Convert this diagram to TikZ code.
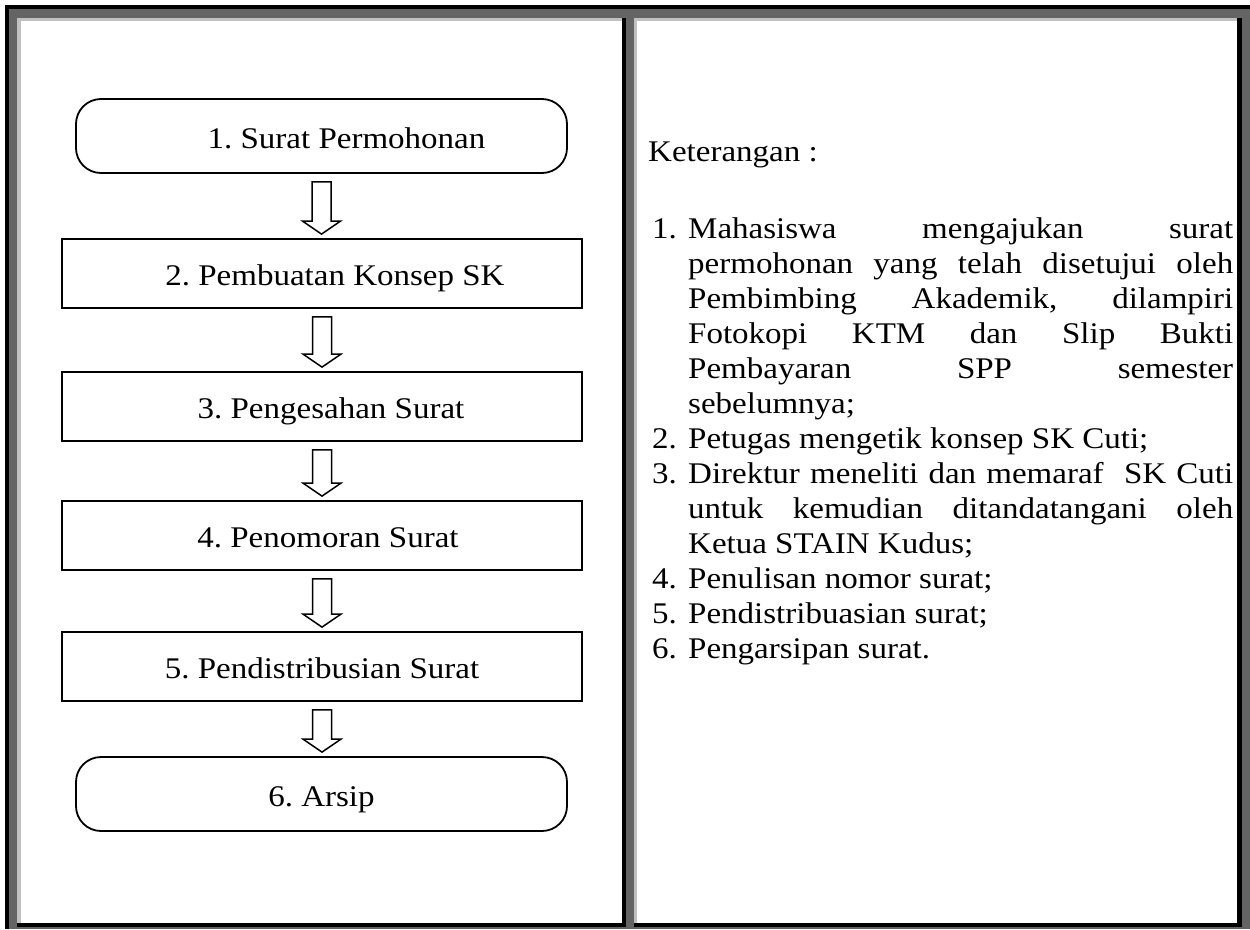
\documentclass[tikz,border=0pt]{standalone}
\usepackage{fontspec}
\setmainfont{Liberation Serif}[FakeStretch=1.1]
\usetikzlibrary{calc}
\definecolor{dg}{HTML}{646464}
\definecolor{lg}{HTML}{C0C0C0}
\tikzset{
  boxsty/.style={draw, line width=1.8pt, minimum width=520pt, minimum height=69pt, inner sep=0pt,
    font=\fontsize{30}{35}\selectfont, text height=24pt, text depth=0pt},
  roundsty/.style={boxsty, minimum width=491pt, minimum height=74pt, rounded corners=25pt},
  arrsty/.style={draw, line width=1.5pt, fill=white, line join=miter},
  txtsty/.style={font=\fontsize{30}{35}\selectfont, inner sep=0pt}
}
\newcommand\blockarr[2]{%
  \path let \p1=(#1.south), \p2=(#2.north) in
    [arrsty] (\x1-9.5pt,\y1-8pt) -- (\x1+9.5pt,\y1-8pt) -- (\x1+9.5pt,\y2+17pt)
    -- (\x1+19pt,\y2+17pt) -- (\x1,\y2+4pt) -- (\x1-19pt,\y2+17pt)
    -- (\x1-9.5pt,\y2+17pt) -- cycle;}
\begin{document}
\frenchspacing
\begin{tikzpicture}[x=1pt,y=-1pt]
\useasboundingbox (0,0) rectangle (1250,929);
\fill[white] (0,0) rectangle (1250,929);
% frame
\fill[black] (5,5) rectangle (1250,9);
\fill[black] (5,5) rectangle (9,929);
\fill[dg] (9,9) rectangle (1250,18);
\fill[dg] (9,9) rectangle (17,929);
\fill[dg] (1242,9) rectangle (1250,929);
\fill[dg] (9,927) rectangle (1250,929);
\fill[lg] (17,18) rectangle (1237,21);
\fill[lg] (17,18) rectangle (21,923);
\fill[black] (1237,18) rectangle (1242,927);
\fill[black] (17,923) rectangle (1242,927);
\fill[black] (622,18) rectangle (626,927);
\fill[dg] (626,9) rectangle (634,929);
\fill[lg] (634,18) rectangle (637,923);
% flow
\node[roundsty] (b1) at (321.5,136) {\hspace*{50pt}1. Surat Permohonan};
\node[boxsty] (b2) at (322,273.5) {\hspace*{26pt}2. Pembuatan Konsep SK};
\node[boxsty] (b3) at (322,406.5) {\hspace*{18pt}3. Pengesahan Surat};
\node[boxsty] (b4) at (322,535.5) {\hspace*{12pt}4. Penomoran Surat};
\node[boxsty] (b5) at (322,666.5) {5. Pendistribusian Surat};
\node[roundsty] (b6) at (321.5,794) {6. Arsip};
\blockarr{b1}{b2}
\blockarr{b2}{b3}
\blockarr{b3}{b4}
\blockarr{b4}{b5}
\blockarr{b5}{b6}
% legend
\node[txtsty, anchor=base west] (ket) at (648,161) {Keterangan :};
\node[txtsty, anchor=north west, text width=581pt, align=justify] (list) at (652,213.5) {%
\parindent=0pt
\hangindent=36pt\hangafter=1\strut\makebox[36pt][l]{1.}Mahasiswa mengajukan surat\linebreak
permohonan yang telah disetujui oleh\linebreak Pembimbing Akademik, dilampiri\linebreak
Fotokopi KTM dan Slip Bukti\linebreak Pembayaran SPP semester\linebreak sebelumnya;\par
\hangindent=36pt\hangafter=1\makebox[36pt][l]{2.}Petugas mengetik konsep SK Cuti;\par
\hangindent=36pt\hangafter=1\makebox[36pt][l]{3.}Direktur meneliti dan memaraf\ \ SK Cuti\linebreak
untuk kemudian ditandatangani oleh\linebreak Ketua STAIN Kudus;\par
\hangindent=36pt\hangafter=1\makebox[36pt][l]{4.}Penulisan nomor surat;\par
\hangindent=36pt\hangafter=1\makebox[36pt][l]{5.}Pendistribuasian surat;\par
\hangindent=36pt\hangafter=1\makebox[36pt][l]{6.}Pengarsipan surat.\par};
\end{tikzpicture}
\end{document}
